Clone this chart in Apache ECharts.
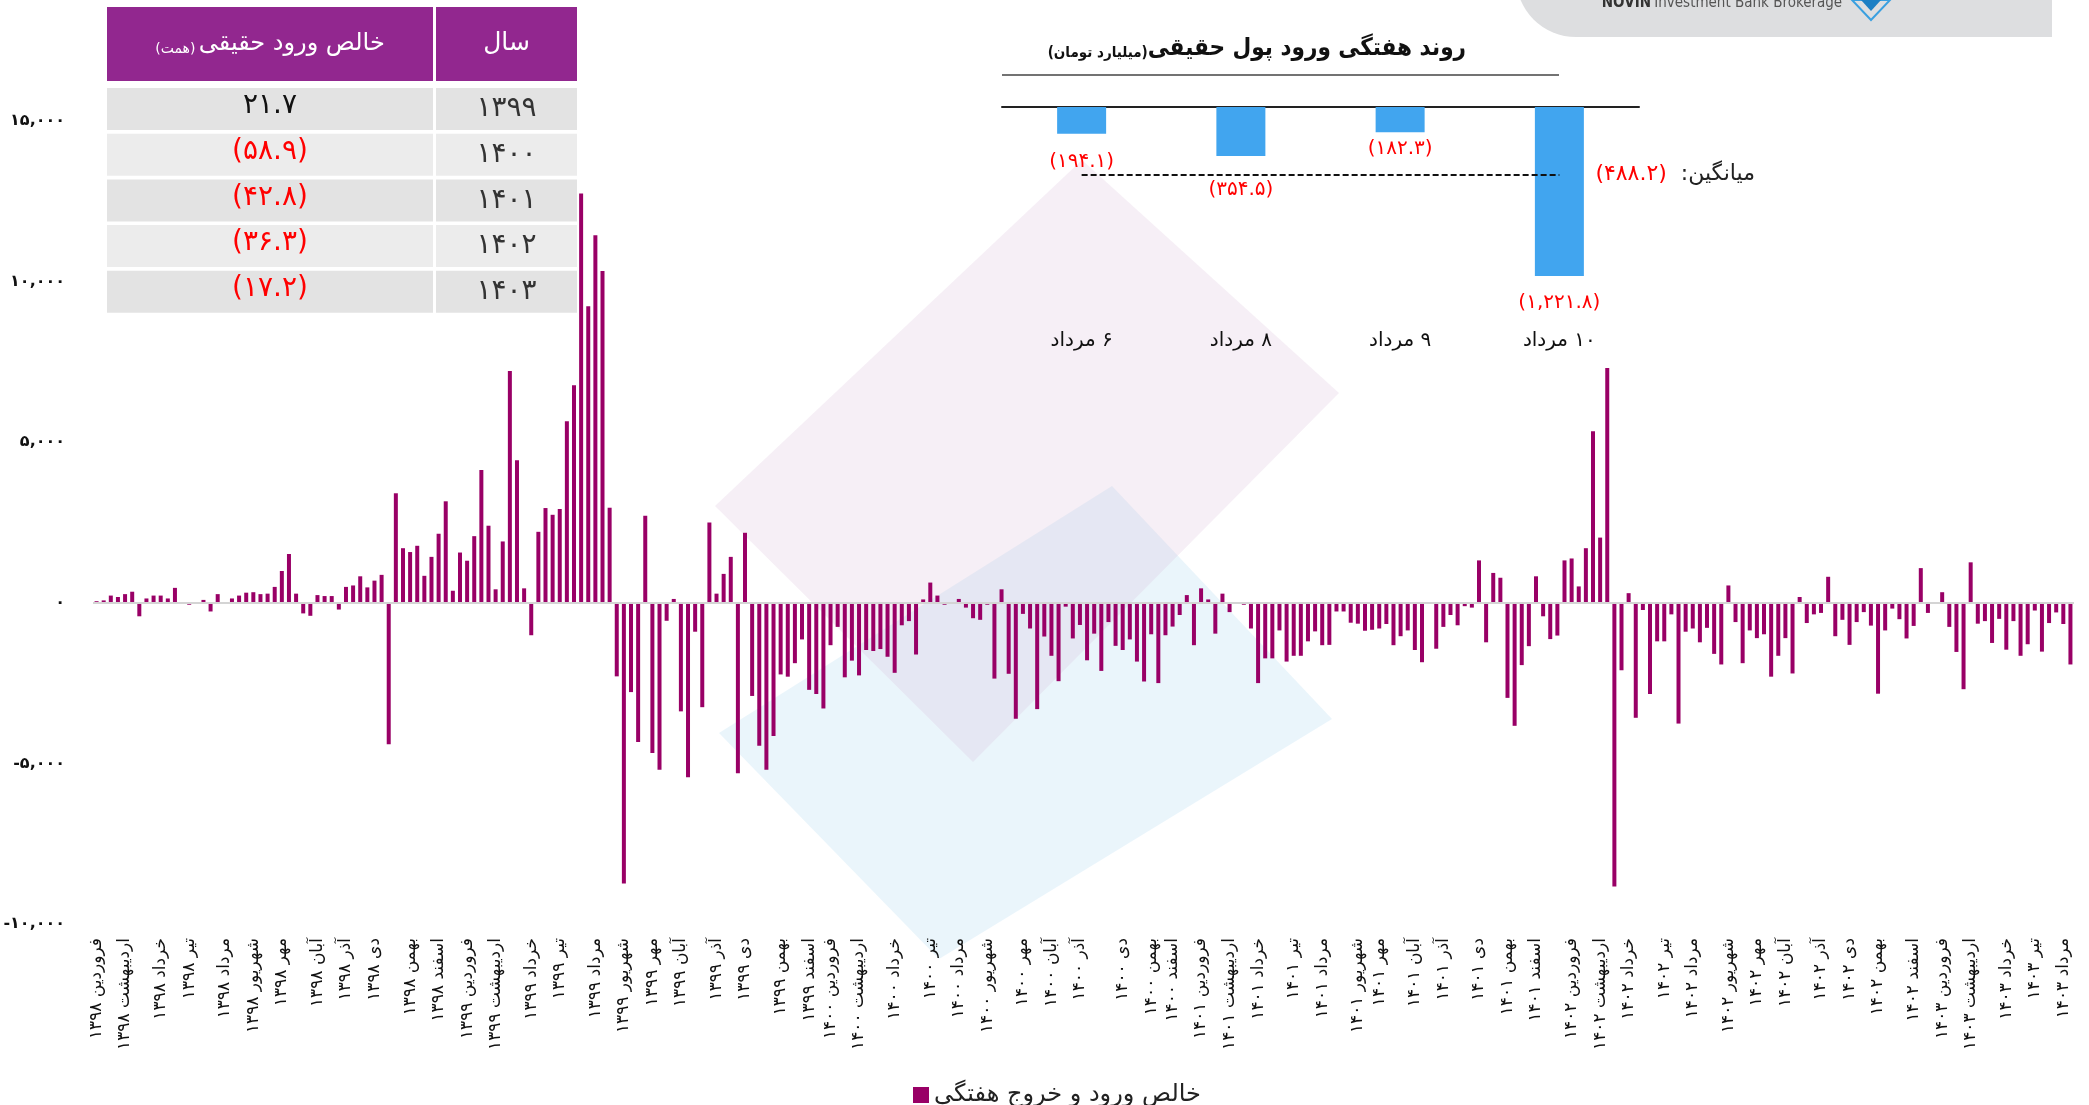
<!DOCTYPE html>
<html>
<head>
<meta charset="utf-8">
<script src="https://cdn.jsdelivr.net/npm/echarts@6/dist/echarts.min.js"></script>
<style>
html,body{margin:0;padding:0;background:#fff;}
#c{width:2089px;height:1105px;}
</style>
</head>
<body>
<div id="c"></div>
<script>
// ---------- DATA ----------
const weeklyValues = [
  50,75,225,180,270,345,-420,135,225,225,
  135,465,20,-60,20,90,-270,270,20,135,
  225,315,330,270,285,495,990,1520,285,-330,
  -405,240,210,210,-210,495,540,825,480,690,
  870,-4400,3410,1700,1580,1775,840,1430,2150,3160,
  375,1565,1310,2075,4135,2400,
  420,1910,7220,4440,450,-1010,2210,2950,2740,2920,
  5650,6770,12740,9230,11440,10330,2960,-2290,-8740,-2780,
  -4330,2710,-4680,-5200,-560,120,-3380,-5430,-900,-3250,
  2500,285,900,1430,-5310,2180,-2900,-4450,-5200,-4150,
  -2230,-2300,-1880,-1140,-2710,-2840,-3290,-1320,-750,-2320,
  -1800,-2260,-1470,-1500,-1440,-1680,
  -2180,-700,-570,-1610,105,630,225,-60,0,120,
  -150,-480,-530,-60,-2360,420,-2210,-3610,-345,-800,
  -3310,-1050,-1650,-2440,-120,-1110,-690,-1790,-960,-2120,
  -600,-1340,-1470,-1140,-1830,-2450,-980,-2500,-1010,-740,
  -380,240,-1320,450,105,-960,285,-290,-30,-60,
  -800,-2500,-1730,-1730,-860,-1830,
  -1650,-1650,-1200,-890,-1320,-1310,-270,-270,-620,-650,
  -870,-840,-800,-660,-1320,-1040,-860,-1470,-1850,0,
  -1430,-750,-380,-700,-105,-150,1320,-1230,930,780,
  -2960,-3830,-1940,-1350,825,-420,-1130,-1020,1320,1380,
  510,1700,5340,2030,7310,-8830,-2100,300,-3580,-225,
  -2840,-1200,-1200,-360,-3760,-900,
  -800,-1230,-780,-1590,-1920,540,-600,-1880,-860,-1100,
  -980,-2300,-1650,-1100,-2200,180,-630,-360,-315,810,
  -1040,-530,-1310,-600,-290,-710,-2830,-860,-180,-510,
  -1110,-720,1080,-315,0,330,-750,-1530,-2690,1260,
  -650,-570,-1250,-500,-1460,-570,-1650,-1290,-240,-1520,
  -630,-300,-660,-1920
];

const monthLabels = [
  'فروردین ۱۳۹۸','اردیبهشت ۱۳۹۸','خرداد ۱۳۹۸','تیر ۱۳۹۸','مرداد ۱۳۹۸','شهریور ۱۳۹۸','مهر ۱۳۹۸','آبان ۱۳۹۸','آذر ۱۳۹۸','دی ۱۳۹۸','بهمن ۱۳۹۸','اسفند ۱۳۹۸',
  'فروردین ۱۳۹۹','اردیبهشت ۱۳۹۹','خرداد ۱۳۹۹','تیر ۱۳۹۹','مرداد ۱۳۹۹','شهریور ۱۳۹۹','مهر ۱۳۹۹','آبان ۱۳۹۹','آذر ۱۳۹۹','دی ۱۳۹۹','بهمن ۱۳۹۹','اسفند ۱۳۹۹',
  'فروردین ۱۴۰۰','اردیبهشت ۱۴۰۰','خرداد ۱۴۰۰','تیر ۱۴۰۰','مرداد ۱۴۰۰','شهریور ۱۴۰۰','مهر ۱۴۰۰','آبان ۱۴۰۰','آذر ۱۴۰۰','دی ۱۴۰۰','بهمن ۱۴۰۰','اسفند ۱۴۰۰',
  'فروردین ۱۴۰۱','اردیبهشت ۱۴۰۱','خرداد ۱۴۰۱','تیر ۱۴۰۱','مرداد ۱۴۰۱','شهریور ۱۴۰۱','مهر ۱۴۰۱','آبان ۱۴۰۱','آذر ۱۴۰۱','دی ۱۴۰۱','بهمن ۱۴۰۱','اسفند ۱۴۰۱',
  'فروردین ۱۴۰۲','اردیبهشت ۱۴۰۲','خرداد ۱۴۰۲','تیر ۱۴۰۲','مرداد ۱۴۰۲','شهریور ۱۴۰۲','مهر ۱۴۰۲','آبان ۱۴۰۲','آذر ۱۴۰۲','دی ۱۴۰۲','بهمن ۱۴۰۲','اسفند ۱۴۰۲',
  'فروردین ۱۴۰۳','اردیبهشت ۱۴۰۳','خرداد ۱۴۰۳','تیر ۱۴۰۳','مرداد ۱۴۰۳'
];
const monthStartWeek = [
  0,4,9,13,18,22,26,31,35,39,44,48,
  52,56,61,65,70,74,78,82,87,91,96,100,
  103,107,112,117,121,125,130,134,138,144,148,151,
  155,159,163,168,172,177,180,185,189,194,198,202,
  207,211,215,220,224,229,233,237,242,246,250,255,
  259,263,268,272,276
];

const tableYears = ['۱۳۹۹','۱۴۰۰','۱۴۰۱','۱۴۰۲','۱۴۰۳'];
const tableValues = [21.7, -58.9, -42.8, -36.3, -17.2];

const insetDays = ['۶ مرداد','۸ مرداد','۹ مرداد','۱۰ مرداد'];
const insetValues = [-194.1, -354.5, -182.3, -1221.8];

const seriesName = 'خالص ورود و خروج هفتگی';

// style only: gap between each inset bar end and its value label
const insetLabelGap = [18, 24, 7, 17];

// ---------- HELPERS ----------
const FA = '۰۱۲۳۴۵۶۷۸۹';
const RLM = '\u200F';
function fa(s){ return String(s).replace(/[0-9]/g, d => FA[+d]); }
function faNum(v, dec){
  const a = Math.abs(v).toLocaleString('en-US', dec == null ? {} : {minimumFractionDigits:dec, maximumFractionDigits:dec});
  return fa(a);
}
const FONT = 'DejaVu Sans';

const weekIds = weeklyValues.map((_, i) => String(i));
const labelByWeek = {};
monthStartWeek.forEach((w, i) => { labelByWeek[w] = monthLabels[i]; });
const insetAvg = insetValues.reduce((a, b) => a + b, 0) / insetValues.length;

// ---------- GRAPHICS (table, titles, decoration) ----------
const graphics = [];
// watermark shapes
graphics.push({type:'polygon', z:-6, silent:true, shape:{points:[[719,733],[1112,486],[1332,719],[939,959]]}, style:{fill:'rgba(160,208,238,0.22)'}});
graphics.push({type:'polygon', z:-5, silent:true, shape:{points:[[715,506],[1082,160],[1339,393],[973,762]]}, style:{fill:'rgba(214,180,212,0.22)'}});
// logo box
graphics.push({type:'rect', z:1, silent:true, shape:{x:1516, y:-40, width:536, height:77, r:[0,0,0,60]}, style:{fill:'#dddee0'}});
graphics.push({type:'text', z:2, silent:true, style:{
  text:'{a|NOVIN} {b|Investment Bank Brokerage}', x:1722, y:3, align:'center', verticalAlign:'middle',
  rich:{a:{fontFamily:'DejaVu Sans Condensed', fontWeight:'bold', fontSize:15, fill:'#333'}, b:{fontFamily:'DejaVu Sans Condensed', fontSize:15, fill:'#555'}}
}});
graphics.push({type:'polygon', z:2, silent:true, shape:{points:[[1852,0],[1890,0],[1871,20]]}, style:{fill:'none', stroke:'#3aa0e0', lineWidth:2}});
graphics.push({type:'polygon', z:2, silent:true, shape:{points:[[1861,0],[1881,0],[1871,11]]}, style:{fill:'#1c7fc4'}});

// table header
const colL = {x:107, w:326}, colR = {x:436, w:141};
graphics.push({type:'rect', z:10, shape:{x:colL.x, y:7, width:colL.w, height:74}, style:{fill:'#92278f'}});
graphics.push({type:'rect', z:10, shape:{x:colR.x, y:7, width:colR.w, height:74}, style:{fill:'#92278f'}});
graphics.push({type:'text', z:11, style:{
  text:'{s|(همت)} {b|خالص ورود حقیقی}', x:colL.x + colL.w/2, y:44, align:'center', verticalAlign:'middle',
  rich:{s:{fontFamily:FONT, fontSize:14, fill:'#fff', padding:[10,0,0,0]}, b:{fontFamily:FONT, fontSize:24, fill:'#fff'}}
}});
graphics.push({type:'text', z:11, style:{text:'سال', x:colR.x + colR.w/2, y:43, align:'center', verticalAlign:'middle', font:'25px "DejaVu Sans"', fill:'#fff'}});
tableYears.forEach((yr, i) => {
  const top = 88 + i*45.7;
  const bg = i % 2 === 0 ? '#e3e3e3' : '#ececec';
  graphics.push({type:'rect', z:10, shape:{x:colL.x, y:top, width:colL.w, height:42}, style:{fill:bg}});
  graphics.push({type:'rect', z:10, shape:{x:colR.x, y:top, width:colR.w, height:42}, style:{fill:bg}});
  const v = tableValues[i];
  const txt = v < 0 ? '(' + faNum(v, 1) + ')' : faNum(v, 1);
  graphics.push({type:'text', z:11, style:{text:txt, x:colL.x + colL.w/2, y:top+18, align:'center', verticalAlign:'middle', font:'28px "DejaVu Sans"', fill: v < 0 ? '#ff0000' : '#111'}});
  graphics.push({type:'text', z:11, style:{text:yr, x:colR.x + colR.w/2, y:top+21, align:'center', verticalAlign:'middle', font:'28px "DejaVu Sans"', fill:'#333'}});
});

// inset title
graphics.push({type:'text', z:11, style:{
  text:'{s|(میلیارد تومان)}{b|روند هفتگی ورود پول حقیقی}', x:1466, y:49, align:'right', verticalAlign:'middle',
  rich:{s:{fontFamily:'DejaVu Sans Condensed', fontSize:15, fontWeight:'bold', fill:'#111', padding:[8,0,0,0]},
        b:{fontFamily:'DejaVu Sans Condensed', fontSize:24, fontWeight:'bold', fill:'#111'}}
}});
graphics.push({type:'line', z:11, shape:{x1:1002, y1:75, x2:1559, y2:75}, style:{stroke:'#444', lineWidth:1.5}});

// ---------- CHART ----------
const chart = echarts.init(document.getElementById('c'), null, {renderer:'canvas'});
const option = {
  backgroundColor:'#ffffff',
  animation:false,
  textStyle:{fontFamily:FONT},
  graphic: graphics,
  legend:{
    data:[seriesName], left:908, top:1078, icon:'rect', itemWidth:16, itemHeight:16, itemGap:8,
    textStyle:{fontFamily:FONT, fontSize:24, color:'#222'}
  },
  grid:[
    {left:93, top:121, width:1981, height:803},
    {left:1002, top:107, width:637, height:207.5}
  ],
  xAxis:[
    {
      gridIndex:0, type:'category', data:weekIds, position:'bottom',
      axisLine:{show:false, onZero:false}, axisTick:{show:false},
      axisLabel:{interval:0, rotate:90, margin:14, fontFamily:FONT, fontSize:17, color:'#111',
        formatter:(v, idx) => labelByWeek[idx] || ''}
    },
    {
      gridIndex:1, type:'category', data:insetDays, position:'top',
      axisLine:{show:true, onZero:false, lineStyle:{color:'#222', width:2}}, axisTick:{show:false}, axisLabel:{show:false}
    },
    {
      gridIndex:1, type:'category', data:insetDays, position:'bottom',
      axisLine:{show:false, onZero:false}, axisTick:{show:false},
      axisLabel:{margin:16, fontFamily:FONT, fontSize:20, color:'#111', formatter:v => RLM + v}
    }
  ],
  yAxis:[
    {
      gridIndex:0, type:'value', min:-10000, max:15000, interval:5000,
      axisLine:{show:false}, axisTick:{show:false}, splitLine:{show:false},
      axisLabel:{margin:28, fontFamily:FONT, fontSize:16, fontWeight:'bold', color:'#111',
        formatter:v => v === 0 ? '۰' : (v < 0 ? '-' : '') + faNum(v)}
    },
    {
      gridIndex:1, type:'value', min:-1500, max:0,
      axisLine:{show:false}, axisTick:{show:false}, splitLine:{show:false}, axisLabel:{show:false}
    }
  ],
  series:[
    {
      name:seriesName, type:'bar', xAxisIndex:0, yAxisIndex:0, data:weeklyValues, barWidth:4,
      itemStyle:{color:'#990066'},
      markLine:{silent:true, symbol:'none', label:{show:false},
        lineStyle:{color:'#d4d4d4', width:2, type:'solid'}, data:[{yAxis:0}]}
    },
    {
      name:'inset', type:'bar', xAxisIndex:2, yAxisIndex:1, barWidth:49,
      data:insetValues.map((v, i) => ({value:v, label:{distance:insetLabelGap[i]}})),
      itemStyle:{color:'#41a5ef'},
      label:{show:true, position:'bottom', fontFamily:FONT, fontSize:20, color:'#ff0000',
        formatter:p => '(' + faNum(p.value, 1) + ')'},
      markLine:{silent:true, symbol:'none',
        lineStyle:{color:'#111', width:2, type:[6,3]},
        label:{show:true, position:'end', distance:36,
          formatter:() => '{r|(' + faNum(insetAvg, 1) + ')}{k|  میانگین:' + RLM + '}',
          rich:{r:{fontFamily:FONT, fontSize:22, color:'#ff0000'}, k:{fontFamily:FONT, fontSize:22, color:'#222'}}},
        data:[[{coord:[0, insetAvg]}, {coord:[3, insetAvg]}]]}
    }
  ]
};
chart.setOption(option);
</script>
</body>
</html>
